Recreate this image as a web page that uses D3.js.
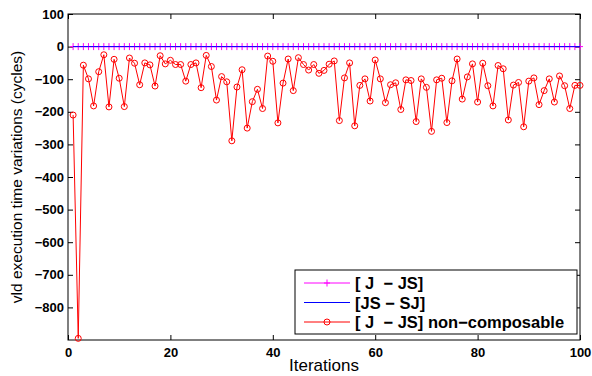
<!DOCTYPE html>
<html>
<head>
<meta charset="utf-8">
<script src="https://cdn.jsdelivr.net/npm/d3@7"></script>
<style>
  body { margin: 0; background: #fff; }
  svg { display: block; font-family: "Liberation Sans", Arial, sans-serif; }
</style>
</head>
<body>
<div id="chart"></div>
<script>
// Data
const iterations = d3.range(1, 101);
const jjs = iterations.map(() => 0);      // [ J - JS]
const jssj = iterations.map(() => 0);     // [JS - SJ]
const nonComposable = [
  -210, -895, -57, -99, -182, -77, -25, -185, -39, -97,
  -184, -35, -51, -117, -50, -56, -121, -28, -53, -42,
  -55, -55, -106, -55, -50, -126, -27, -61, -164, -92,
  -108, -289, -124, -71, -250, -169, -131, -190, -29, -45,
  -234, -112, -38, -135, -34, -55, -72, -55, -82, -73,
  -54, -44, -227, -96, -50, -243, -119, -99, -167, -41,
  -99, -172, -117, -111, -193, -102, -104, -230, -99, -125,
  -260, -102, -97, -233, -105, -38, -161, -93, -53, -170,
  -51, -120, -182, -58, -68, -225, -118, -110, -246, -106,
  -96, -178, -135, -99, -170, -90, -120, -190, -119, -119
];
const xTicks = [0, 20, 40, 60, 80, 100];
const yTicks = [100, 0, -100, -200, -300, -400, -500, -600, -700, -800];
const legendLabels = ["[ J  \u2212 JS]", "[JS \u2212 SJ]", "[ J  \u2212 JS] non\u2212composable"];

const width = 592, height = 376;
const mLeft = 68, mRight = 580, mTop = 14, mBottom = 340;

const svg = d3.select("#chart").append("svg")
  .attr("width", width)
  .attr("height", height);

const x = d3.scaleLinear().domain([0, 100]).range([mLeft, mRight]);
const y = d3.scaleLinear().domain([-900, 100]).range([mBottom, mTop]);

// Axes (ticks inward, box on)
const fmt = d => d < 0 ? "\u2212" + Math.abs(d) : String(d);

svg.append("g")
  .attr("transform", "translate(0," + mBottom + ")")
  .call(d3.axisBottom(x).tickValues(xTicks).tickSize(-5).tickPadding(8).tickFormat(fmt))
  .call(g => g.select(".domain").remove());

svg.append("g")
  .attr("transform", "translate(0," + mTop + ")")
  .call(d3.axisTop(x).tickValues(xTicks).tickSize(-5).tickFormat(""))
  .call(g => g.select(".domain").remove());

svg.append("g")
  .attr("transform", "translate(" + mLeft + ",0)")
  .call(d3.axisLeft(y).tickValues(yTicks).tickSize(-5).tickPadding(4).tickFormat(fmt))
  .call(g => g.select(".domain").remove());

svg.append("g")
  .attr("transform", "translate(" + mRight + ",0)")
  .call(d3.axisRight(y).tickValues(yTicks).tickSize(-5).tickFormat(""))
  .call(g => g.select(".domain").remove());

svg.selectAll(".tick text")
  .attr("font-size", 13)
  .attr("font-weight", "bold")
  .attr("font-family", "Liberation Sans, Arial, sans-serif")
  .attr("fill", "#000");
svg.selectAll(".tick line").attr("stroke", "#000");

svg.append("rect")
  .attr("x", mLeft).attr("y", mTop)
  .attr("width", mRight - mLeft).attr("height", mBottom - mTop)
  .attr("fill", "none").attr("stroke", "#000").attr("stroke-width", 1);

// Axis labels
svg.append("text")
  .attr("x", (mLeft + mRight) / 2).attr("y", 371)
  .attr("text-anchor", "middle")
  .attr("font-size", 17)
  .text("Iterations");

svg.append("text")
  .attr("transform", "translate(22," + (mTop + mBottom) / 2 + ") rotate(-90)")
  .attr("text-anchor", "middle")
  .attr("font-size", 15.5)
  .text("vld execution time variations (cycles)");

const line = d3.line()
  .x((d, i) => x(iterations[i]))
  .y(d => y(d));

// [ J - JS] magenta with + markers
svg.append("path")
  .datum(jjs)
  .attr("fill", "none").attr("stroke", "#ff00ff").attr("stroke-width", 1)
  .attr("d", line);

svg.append("g")
  .selectAll("path")
  .data(jjs).enter()
  .append("path")
  .attr("d", (d, i) => {
    const cx = x(iterations[i]), cy = y(d);
    return "M" + (cx - 3) + "," + cy + "H" + (cx + 3) + "M" + cx + "," + (cy - 3.5) + "V" + (cy + 3.5);
  })
  .attr("stroke", "#ff00ff").attr("stroke-width", 1);

// [JS - SJ] blue
svg.append("path")
  .datum(jssj)
  .attr("fill", "none").attr("stroke", "#0000ff").attr("stroke-width", 1)
  .attr("d", line);

// non-composable red with circles
svg.append("path")
  .datum(nonComposable)
  .attr("fill", "none").attr("stroke", "#ff0000").attr("stroke-width", 1)
  .attr("d", line);

svg.append("g")
  .selectAll("circle")
  .data(nonComposable).enter()
  .append("circle")
  .attr("cx", (d, i) => x(iterations[i]))
  .attr("cy", d => y(d))
  .attr("r", 3)
  .attr("fill", "none")
  .attr("stroke", "#ff0000").attr("stroke-width", 1);

// Legend
const lg = svg.append("g");
lg.append("rect")
  .attr("x", 295).attr("y", 270)
  .attr("width", 282).attr("height", 64)
  .attr("fill", "#fff").attr("stroke", "#000");

const legendColors = ["#ff00ff", "#0000ff", "#ff0000"];
const rowY = [283, 302.5, 322];
legendLabels.forEach((lab, i) => {
  lg.append("line")
    .attr("x1", 304).attr("x2", 350)
    .attr("y1", rowY[i]).attr("y2", rowY[i])
    .attr("stroke", legendColors[i]);
  if (i === 0) {
    lg.append("path")
      .attr("d", "M324,283H330M327,279.5V286.5")
      .attr("stroke", legendColors[i]);
  }
  if (i === 2) {
    lg.append("circle")
      .attr("cx", 327).attr("cy", rowY[i]).attr("r", 3)
      .attr("fill", "none").attr("stroke", legendColors[i]);
  }
  lg.append("text")
    .attr("x", 355).attr("y", rowY[i] + 6)
    .attr("font-size", 16.5).attr("font-weight", "bold")
    .style("white-space", "pre")
    .text(lab);
});
</script>
</body>
</html>
